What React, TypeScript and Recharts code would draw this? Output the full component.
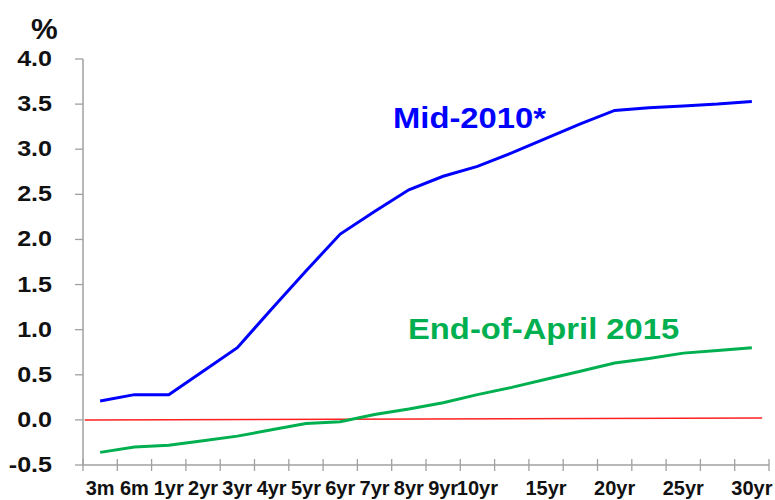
import React from 'react';
import { LineChart, Line, XAxis, YAxis, ReferenceLine } from 'recharts';

// maturities on the category axis (unlabelled slots between 10yr and 30yr)
const CATEGORIES = ['3m', '6m', '1yr', '2yr', '3yr', '4yr', '5yr', '6yr', '7yr', '8yr', '9yr', '10yr', '12.5yr', '15yr', '17.5yr', '20yr', '22.5yr', '25yr', '27.5yr', '30yr'];
const TICK_LABELS = ['3m', '6m', '1yr', '2yr', '3yr', '4yr', '5yr', '6yr', '7yr', '8yr', '9yr', '10yr', '', '15yr', '', '20yr', '', '25yr', '', '30yr'];

const MID_2010 = [0.21, 0.28, 0.28, 0.54, 0.8, 1.23, 1.65, 2.06, 2.31, 2.55, 2.7, 2.81, 2.96, 3.12, 3.28, 3.43, 3.46, 3.48, 3.5, 3.53];
const APR_2015 = [-0.36, -0.3, -0.28, -0.23, -0.18, -0.11, -0.04, -0.02, 0.06, 0.12, 0.19, 0.28, 0.36, 0.45, 0.54, 0.63, 0.68, 0.74, 0.77, 0.8];

const Y_TICKS = [-0.5, 0, 0.5, 1, 1.5, 2, 2.5, 3, 3.5, 4];

const BLUE = '#0000ff';
const GREEN = '#00b050';
const AXIS = '#a0a0a0';
const FONT = '"Liberation Sans", Arial, sans-serif';

const W = 775;
const H = 500;
const MARGIN = { top: 59, right: 6, left: 0, bottom: 0 };
const Y_AXIS_W = 83;
const STEP = (W - MARGIN.right - Y_AXIS_W) / CATEGORIES.length;

const data = CATEGORIES.map((name, i) => ({
  name,
  pos: i + 0.5,
  mid2010: MID_2010[i],
  apr2015: APR_2015[i],
}));

const xTicks = Array.from({ length: CATEGORIES.length + 1 }, (_, i) => i);

function XTick({ x, y, payload }: any) {
  const label = TICK_LABELS[payload.value] || '';
  return (
    <g>
      <line x1={x} x2={x} y1={y - 6} y2={y + 6} stroke={AXIS} strokeWidth={1.3} />
      {label && (
        <text
          x={x + STEP / 2}
          y={y + 30}
          textAnchor="middle"
          fontFamily={FONT}
          fontWeight={700}
          fontSize={20}
          fill="#111"
        >
          {label}
        </text>
      )}
    </g>
  );
}

function YTick({ x, y, payload }: any) {
  return (
    <text
      transform={`translate(${x},${y + 7}) scale(1.14,1)`}
      textAnchor="end"
      fontFamily={FONT}
      fontWeight={700}
      fontSize={22}
      fill="#111"
    >
      {Number(payload.value).toFixed(1)}
    </text>
  );
}

export default function App() {
  return (
    <div style={{ position: 'relative', width: W, height: H, background: '#fff' }}>
      <style>{'body{margin:0}'}</style>
      <LineChart width={W} height={H} data={data} margin={MARGIN}>
        <XAxis
          dataKey="pos"
          type="number"
          domain={[0, CATEGORIES.length]}
          ticks={xTicks}
          interval={0}
          height={35}
          tickSize={0}
          tickMargin={0}
          tickLine={false}
          axisLine={{ stroke: AXIS, strokeWidth: 1.5 }}
          tick={<XTick />}
        />
        <YAxis
          type="number"
          domain={[-0.5, 4]}
          ticks={Y_TICKS}
          interval={0}
          width={Y_AXIS_W}
          tickSize={8}
          tickMargin={23}
          tickLine={{ stroke: AXIS, strokeWidth: 1.3 }}
          axisLine={{ stroke: AXIS, strokeWidth: 1.5 }}
          tick={<YTick />}
        />
        <ReferenceLine
          segment={[{ x: 0.05, y: 0 }, { x: 19.8, y: 0.02 }]}
          stroke="#ff2020"
          strokeWidth={1.5}
        />
        <Line type="linear" dataKey="mid2010" stroke={BLUE} strokeWidth={3} dot={false} isAnimationActive={false} />
        <Line type="linear" dataKey="apr2015" stroke={GREEN} strokeWidth={3} dot={false} isAnimationActive={false} />
      </LineChart>
      <svg width={W} height={H} style={{ position: 'absolute', left: 0, top: 0, pointerEvents: 'none' }}>
        <text x={31} y={39} fontFamily={FONT} fontWeight={700} fontSize={30} fill="#111">%</text>
        <text transform="translate(393,128) scale(1.13,1)" fontFamily={FONT} fontWeight={700} fontSize={29} fill={BLUE}>
          Mid-2010*
        </text>
        <text transform="translate(408,339) scale(1.13,1)" fontFamily={FONT} fontWeight={700} fontSize={29} fill={GREEN}>
          End-of-April 2015
        </text>
      </svg>
    </div>
  );
}
